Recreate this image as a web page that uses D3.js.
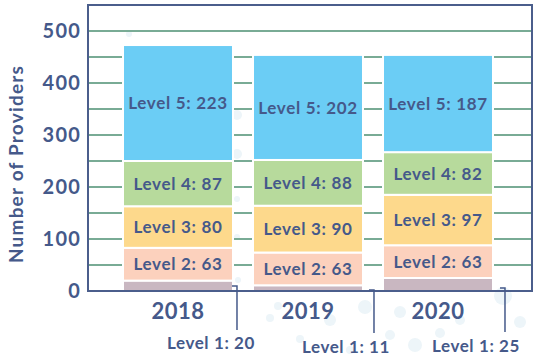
<!DOCTYPE html>
<html>
<head>
<meta charset="utf-8">
<script src="https://cdn.jsdelivr.net/npm/d3@7"></script>
<style>
  html, body { margin: 0; padding: 0; background: #ffffff; }
  svg { display: block; font-family: Lato, "Open Sans", sans-serif; font-weight: 700; }
</style>
</head>
<body>
<svg id="chart" width="535" height="356"></svg>
<script>
// Providers per level, by year
const years = ["2018", "2019", "2020"];
const levels = ["Level 1", "Level 2", "Level 3", "Level 4", "Level 5"];
const level1 = [20, 11, 25];
const level2 = [63, 63, 63];
const level3 = [80, 90, 97];
const level4 = [87, 88, 82];
const level5 = [223, 202, 187];
const yTicks = [0, 100, 200, 300, 400, 500];
const gridTicks = [50, 100, 150, 200, 250, 300, 350, 400, 450, 500];
const levelColors = ["#c9b7c1", "#fcd1bd", "#fdd98c", "#b7da9c", "#6bcdf5"];

const ink = "#45598a";
const gridColor = "#79ab95";

const svg = d3.select("#chart");
const frame = { left: 88, right: 532, top: 5, bottom: 291 };

const x = d3.scaleBand()
  .domain(years)
  .range([113, 503])
  .paddingInner(0.154)
  .paddingOuter(0.077);

const y = d3.scaleLinear()
  .domain([0, 550])
  .range([frame.bottom, frame.top]);

// faint decorative bubbles in the background
const bubbles = [
  [129, 34, 3], [237, 115, 5], [237, 154, 5], [237, 199, 3], [237, 237, 3], [238, 280, 3],
  [248, 343, 3], [270, 318, 4], [300, 339, 4], [330, 320, 6], [365, 307, 7], [390, 335, 5],
  [400, 312, 6], [415, 345, 7], [440, 333, 5], [460, 320, 5], [503, 296, 9], [520, 322, 6],
  [278, 306, 4], [350, 350, 4]
];
svg.append("g").selectAll("circle")
  .data(bubbles)
  .join("circle")
  .attr("cx", d => d[0]).attr("cy", d => d[1]).attr("r", d => d[2])
  .attr("fill", "#edf5f9");

// horizontal gridlines
svg.append("g").selectAll("line")
  .data(gridTicks)
  .join("line")
  .attr("x1", frame.left).attr("x2", frame.right)
  .attr("y1", d => y(d)).attr("y2", d => y(d))
  .attr("stroke", gridColor).attr("stroke-width", 2);

// stacked bars
const rows = years.map((yr, i) => ({
  year: yr,
  "Level 1": level1[i], "Level 2": level2[i], "Level 3": level3[i],
  "Level 4": level4[i], "Level 5": level5[i]
}));
const series = d3.stack().keys(levels)(rows);

const layers = svg.append("g").selectAll("g")
  .data(series)
  .join("g")
  .attr("fill", (d, i) => levelColors[i]);

layers.selectAll("rect")
  .data(d => d.map(p => ({ key: d.key, p })))
  .join("rect")
  .attr("x", d => x(d.p.data.year))
  .attr("width", x.bandwidth())
  .attr("y", d => y(d.p[1]))
  .attr("height", d => y(d.p[0]) - y(d.p[1]))
  .attr("stroke", "#ffffff")
  .attr("stroke-width", 2);

// labels inside the bars (levels 2-5)
series.slice(1).forEach(s => {
  svg.append("g").selectAll("text")
    .data(s)
    .join("text")
    .attr("x", d => x(d.data.year) + x.bandwidth() / 2)
    .attr("y", d => (y(d[0]) + y(d[1])) / 2)
    .attr("dy", "0.36em")
    .attr("text-anchor", "middle")
    .attr("fill", ink)
    .attr("font-size", 17)
    .attr("letter-spacing", 0.7)
    .text(d => `${s.key}: ${d[1] - d[0]}`);
});

// frame
svg.append("rect")
  .attr("x", frame.left).attr("y", frame.top)
  .attr("width", frame.right - frame.left)
  .attr("height", frame.bottom - frame.top)
  .attr("fill", "none")
  .attr("stroke", "#4b5e8c").attr("stroke-width", 2);

// y axis
const yAxis = svg.append("g")
  .attr("transform", `translate(${frame.left},0)`)
  .call(d3.axisLeft(y).tickValues(yTicks).tickSize(0).tickPadding(7));
yAxis.select(".domain").remove();
yAxis.selectAll("text")
  .attr("fill", ink)
  .attr("font-size", 20)
  .attr("letter-spacing", 1.2)
  .attr("font-family", "Lato, sans-serif")
  .attr("font-weight", 700);

svg.append("text")
  .attr("transform", `translate(23,${(y(0) + y(500)) / 2 + 3}) rotate(-90)`)
  .attr("text-anchor", "middle")
  .attr("fill", ink)
  .attr("font-size", 19)
  .attr("letter-spacing", 1.2)
  .text("Number of Providers");

// x axis
const xAxis = svg.append("g")
  .attr("transform", `translate(0,${frame.bottom})`)
  .call(d3.axisBottom(x).tickSize(0).tickPadding(12));
xAxis.select(".domain").remove();
xAxis.selectAll("text")
  .attr("fill", ink)
  .attr("font-size", 22)
  .attr("letter-spacing", 0.5)
  .attr("font-family", "Lato, sans-serif")
  .attr("font-weight", 700);

// level 1 callouts
const calloutOffsets = [
  { gap: 4, drop: 330, tickY: -5, labelDx: -26, labelY: 349 },
  { gap: 11, drop: 333, tickY: -1, labelDx: -28, labelY: 353 },
  { gap: 12, drop: 332, tickY: -3, labelDx: -29, labelY: 352 }
];
const callouts = svg.append("g");
years.forEach((yr, i) => {
  const o = calloutOffsets[i];
  const barRight = x(yr) + x.bandwidth();
  const lx = barRight + o.gap;
  const ty = frame.bottom + o.tickY;
  callouts.append("path")
    .attr("d", `M${lx - 5},${ty}H${lx}V${o.drop}`)
    .attr("fill", "none")
    .attr("stroke", ink)
    .attr("stroke-width", 1.5);
  callouts.append("text")
    .attr("x", lx + o.labelDx)
    .attr("y", o.labelY)
    .attr("text-anchor", "middle")
    .attr("fill", ink)
    .attr("font-size", 17)
    .attr("letter-spacing", 0.6)
    .text(`Level 1: ${level1[i]}`);
});
</script>
</body>
</html>
